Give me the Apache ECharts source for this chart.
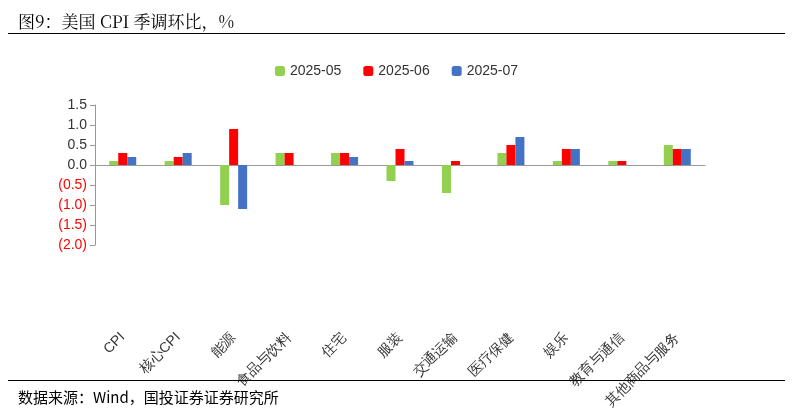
<!DOCTYPE html><html><head><meta charset="utf-8">
<script src="https://cdn.jsdelivr.net/npm/echarts@6/dist/echarts.min.js"></script>
<style>body{margin:0;background:#fff}#w{width:793px;height:413px;position:relative}#c{width:793px;height:413px;position:absolute;left:0;top:0}
.t{position:absolute;left:18px;top:8px;font:17px "Noto Serif CJK SC","Noto Sans CJK SC",serif;color:#000;z-index:2}
.f{position:absolute;left:18px;top:386px;font:15px "Noto Sans CJK SC",serif;color:#000;z-index:2}
.l1{position:absolute;left:8px;right:8px;top:33px;border-top:1px solid #000;z-index:2}
.l2{position:absolute;left:8px;right:8px;top:380px;border-top:1px solid #000;z-index:2}</style></head>
<body><div id="w"><div id="c"></div><div class="t">图9：美国 CPI 季调环比，%</div><div class="l1"></div><div class="l2"></div><div class="f">数据来源：Wind，国投证券证券研究所</div></div>
<script>
const categories=["CPI","核心CPI","能源","食品与饮料","住宅","服装","交通运输","医疗保健","娱乐","教育与通信","其他商品与服务"];
const s2025_05=[0.1,0.1,-1.0,0.3,0.3,-0.4,-0.7,0.3,0.1,0.1,0.5];
const s2025_06=[0.3,0.2,0.9,0.3,0.3,0.4,0.1,0.5,0.4,0.1,0.4];
const s2025_07=[0.2,0.3,-1.1,0.0,0.2,0.1,0.0,0.7,0.4,0.0,0.4];
const ch=echarts.init(document.getElementById('c'));
const mk=(n,d,col)=>({name:n,type:'bar',data:d,itemStyle:{color:col},barWidth:9,barGap:'0%'});
ch.setOption({animation:false,
legend:{top:59,left:'center',itemWidth:10,itemHeight:10,itemGap:22,textStyle:{fontSize:14,color:'#333'},data:['2025-05','2025-06','2025-07']},
grid:{left:95,right:88,top:105,bottom:168,containLabel:false,outerBoundsMode:'none'},
xAxis:{type:'category',data:categories,axisLine:{onZero:true,lineStyle:{color:'#999'}},axisTick:{show:false},
 axisLabel:{rotate:45,fontSize:14,color:'#333',interval:0,margin:90}},
yAxis:{type:'value',min:-2,max:1.5,interval:0.5,splitLine:{show:false},axisLine:{show:true,lineStyle:{color:'#999'}},axisTick:{show:true},
 axisLabel:{fontSize:14,color:v=>v<0?'#f00':'#333',formatter:v=>v<0?'('+(-v).toFixed(1)+')':v.toFixed(1)}},
series:[mk('2025-05',s2025_05,'#92d050'),mk('2025-06',s2025_06,'#ff0000'),mk('2025-07',s2025_07,'#4472c4')]});
</script></body></html>
